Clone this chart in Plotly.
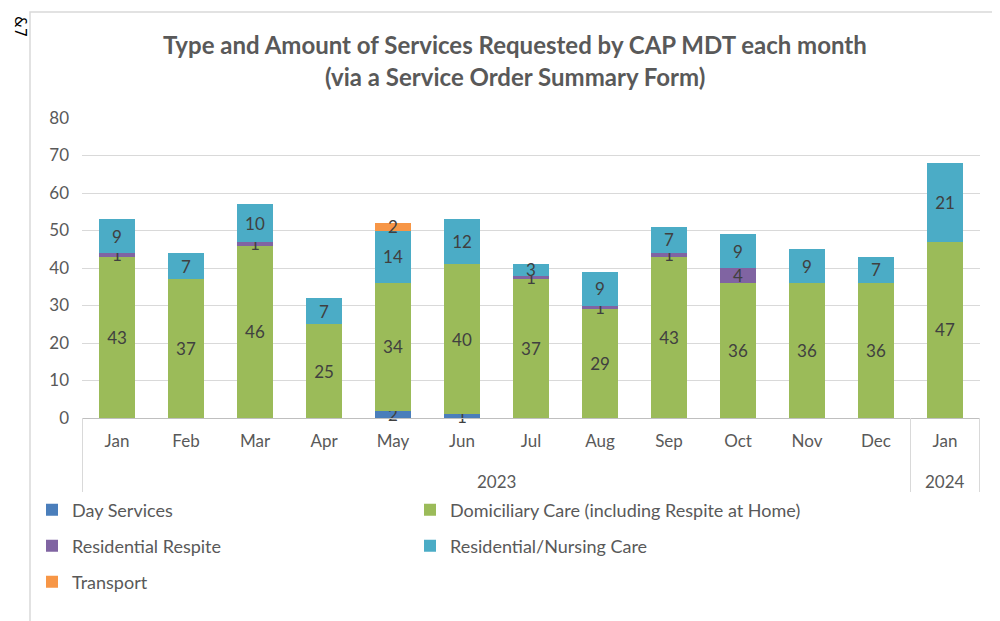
import plotly.graph_objects as go

# data
years = ["2023"] * 12 + ["2024"]
months = ["Jan", "Feb", "Mar", "Apr", "May", "Jun", "Jul", "Aug", "Sep", "Oct", "Nov", "Dec", "Jan"]
year_labels = ["2023", "2024"]

day_services = [0, 0, 0, 0, 2, 1, 0, 0, 0, 0, 0, 0, 0]
domiciliary = [43, 37, 46, 25, 34, 40, 37, 29, 43, 36, 36, 36, 47]
res_respite = [1, 0, 1, 0, 0, 0, 1, 1, 1, 4, 0, 0, 0]
res_nursing = [9, 7, 10, 7, 14, 12, 3, 9, 7, 9, 9, 7, 21]
transport = [0, 0, 0, 0, 2, 0, 0, 0, 0, 0, 0, 0, 0]

categories = [f"{m} {y}" for m, y in zip(months, years)]

series = [
    ("Day Services", day_services, "#4A7EBB"),
    ("Domiciliary Care (including Respite at Home)", domiciliary, "#9BBB59"),
    ("Residential Respite", res_respite, "#8064A2"),
    ("Residential/Nursing Care", res_nursing, "#4BACC6"),
    ("Transport", transport, "#F79646"),
]

FONT = "Lato, Carlito, Open Sans, sans-serif"
GREY = "#595959"

# the page body adds 8px, so figure coords = screen coords - 8
# plot area on screen: x 82..980, y 118..418
def px_y(py):
    return (418 - py) / 300

def px_x(px):
    return (px - 82) / 898

# legend slots (screen px): two columns, three rows
legend_spots = [(32, 510), (410, 510), (32, 546), (410, 546), (32, 582)]

fig = go.Figure()
layout_legends = {}
for i, (name, vals, color) in enumerate(series):
    leg = "legend" if i == 0 else f"legend{i + 1}"
    y = [v if v else None for v in vals]
    txt = [str(v) if v else "" for v in vals]
    fig.add_trace(go.Bar(
        name=name,
        x=categories,
        y=y,
        text=txt,
        textposition="inside",
        insidetextanchor="middle",
        textangle=0,
        constraintext="none",
        cliponaxis=False,
        textfont=dict(color="#404040", size=17, family=FONT),
        marker=dict(color=color, line=dict(width=0)),
        legend=leg,
    ))
    lx, ly = legend_spots[i]
    layout_legends[leg] = dict(
        x=px_x(lx), y=px_y(ly),
        xanchor="left", yanchor="middle",
        orientation="h",
        font=dict(size=18, color=GREY, family=FONT),
        bgcolor="rgba(0,0,0,0)",
        itemclick=False,
    )

# title, year labels and group dividers below the month labels
annotations = [
    dict(text="<b>Type and Amount of Services Requested by CAP MDT each month</b>",
         xref="paper", yref="paper", x=px_x(515), y=px_y(45),
         xanchor="center", yanchor="middle",
         showarrow=False, font=dict(size=24, color=GREY, family=FONT)),
    dict(text="<b>(via a Service Order Summary Form)</b>",
         xref="paper", yref="paper", x=px_x(515), y=px_y(77),
         xanchor="center", yanchor="middle",
         showarrow=False, font=dict(size=24, color=GREY, family=FONT)),
    # stray mark in the corner of the source screenshot
    dict(text="&7", xref="paper", yref="paper", x=px_x(20), y=px_y(26),
         xanchor="center", yanchor="middle", textangle=90,
         showarrow=False, font=dict(size=15, color="black", family="DejaVu Sans")),
]
first_2024 = years.index("2024")
annotations.append(dict(text=year_labels[0], xref="x", yref="paper",
                        x=(first_2024 - 1) / 2, y=px_y(481), showarrow=False,
                        xanchor="center", yanchor="middle",
                        font=dict(size=17, color=GREY, family=FONT)))
annotations.append(dict(text=year_labels[1], xref="x", yref="paper",
                        x=first_2024, y=px_y(481), showarrow=False,
                        xanchor="center", yanchor="middle",
                        font=dict(size=17, color=GREY, family=FONT)))

shapes = [
    dict(type="rect", xref="paper", yref="paper",
         x0=px_x(30), x1=px_x(1010), y0=px_y(640), y1=px_y(12),
         line=dict(color="#D9D9D9", width=1.5), layer="below"),
]
for xv in (-0.5, first_2024 - 0.5, len(categories) - 0.5):
    shapes.append(dict(type="line", xref="x", yref="paper",
                       x0=xv, x1=xv, y0=0, y1=px_y(492),
                       line=dict(color="#D9D9D9", width=1)))

fig.update_layout(
    width=992,
    height=613,
    barmode="stack",
    bargap=0.48,
    margin=dict(l=74, r=20, t=110, b=203),
    plot_bgcolor="white",
    paper_bgcolor="white",
    font=dict(family=FONT, color=GREY, size=17),
    uniformtext=dict(minsize=17, mode="show"),
    showlegend=True,
    xaxis=dict(
        type="category",
        showline=True,
        linecolor="#BFBFBF",
        linewidth=1,
        showgrid=False,
        ticks="",
        tickvals=categories,
        ticktext=months,
        ticklabelstandoff=8,
        tickfont=dict(size=17, color=GREY, family=FONT),
    ),
    yaxis=dict(
        range=[0, 80],
        dtick=10,
        showgrid=True,
        gridcolor="#D9D9D9",
        gridwidth=1,
        zeroline=False,
        showline=False,
        tickfont=dict(size=17, color=GREY, family=FONT),
        ticklabelstandoff=12,
    ),
    annotations=annotations,
    shapes=shapes,
    **layout_legends,
)

fig.write_html("out.html")
